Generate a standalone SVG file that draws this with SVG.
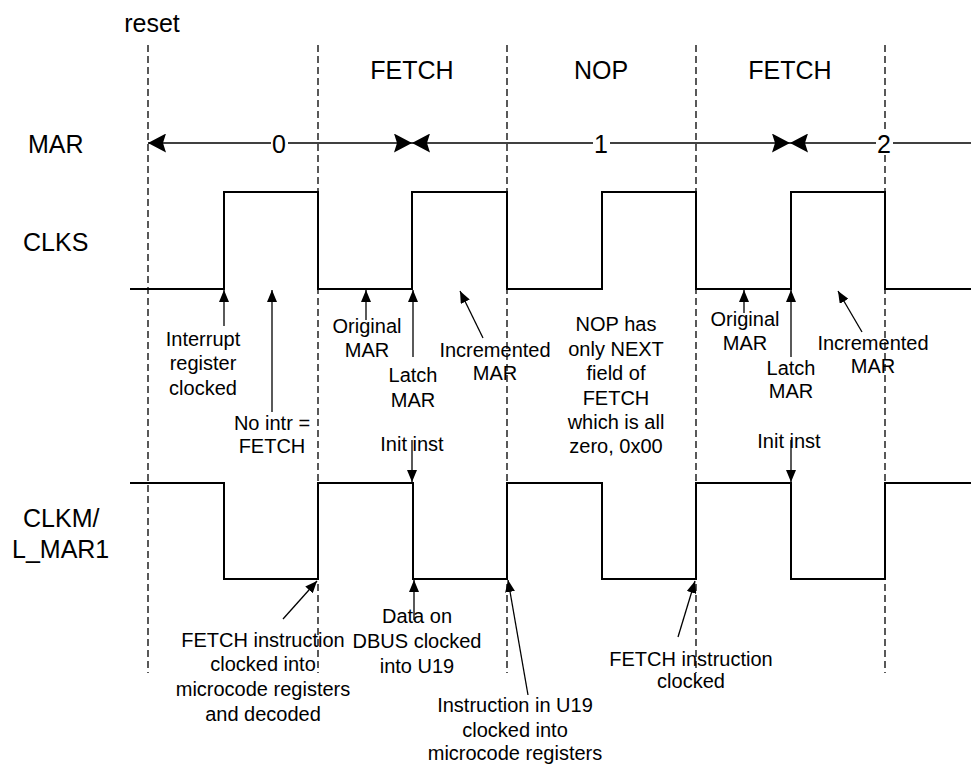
<svg xmlns="http://www.w3.org/2000/svg" width="971" height="764" viewBox="0 0 971 764">
<style>
text{font-family:"Liberation Sans",Arial,sans-serif;fill:#000}
.lbl{font-size:25px}
.ann{font-size:20px;text-anchor:middle}
.mid{text-anchor:middle}
.dash{stroke:#000;stroke-width:1.3;stroke-dasharray:7,4;fill:none}
.wave{stroke:#000;stroke-width:2;fill:none}
.mar{stroke:#000;stroke-width:1.6;fill:none;marker-start:url(#big);marker-end:url(#big)}
.arr{stroke:#000;stroke-width:1.3;fill:none;marker-end:url(#ah)}
.gap{fill:#fff;stroke:none}
</style>
<defs>
<marker id="ah" markerUnits="userSpaceOnUse" viewBox="0 0 12 10" markerWidth="12" markerHeight="10" refX="12" refY="5" orient="auto"><path d="M0,0 L12,5 L0,10 z" fill="#000"/></marker>
<marker id="big" markerUnits="userSpaceOnUse" viewBox="0 0 18 19" markerWidth="18" markerHeight="19" refX="18" refY="9.5" orient="auto-start-reverse"><path d="M0,0 L18,9.5 L0,19 L3,9.5 z" fill="#000"/></marker>
</defs>
<rect width="971" height="764" fill="#fff"/>

<g id="grid">
<line class="dash" x1="148" y1="45" x2="148" y2="673"/>
<line class="dash" x1="318" y1="45" x2="318" y2="673"/>
<line class="dash" x1="507" y1="45" x2="507" y2="673"/>
<line class="dash" x1="696" y1="45" x2="696" y2="673"/>
<line class="dash" x1="885" y1="45" x2="885" y2="673"/>
</g>

<g id="headers">
<text class="lbl mid" x="152" y="32">reset</text>
<text class="lbl mid" x="412" y="79">FETCH</text>
<text class="lbl mid" x="601" y="79">NOP</text>
<text class="lbl mid" x="790" y="79">FETCH</text>
</g>

<g id="signal-names">
<text class="lbl" x="28" y="153">MAR</text>
<text class="lbl" x="23" y="251">CLKS</text>
<text class="lbl" x="23" y="527">CLKM/</text>
<text class="lbl" x="12" y="558">L_MAR1</text>
</g>

<g id="mar">
<path class="mar" d="M148,143 H412"/>
<path class="mar" d="M412,143 H790"/>
<path class="mar" style="marker-end:none" d="M790,143 H971"/>
<rect class="gap" x="271" y="133" width="17" height="22"/>
<rect class="gap" x="593" y="133" width="17" height="22"/>
<rect class="gap" x="876" y="133" width="17" height="22"/>
<text class="lbl mid" x="279" y="153">0</text>
<text class="lbl mid" x="601" y="153">1</text>
<text class="lbl mid" x="884" y="153">2</text>
</g>

<g id="clks">
<path class="wave" d="M130,289 H224 V192 H318 V289 H412 V192 H507 V289 H602 V192 H696 V289 H791 V192 H885 V289 H971"/>
</g>

<g id="clkm">
<path class="wave" d="M130,483 H224 V579 H318 V483 H413 V579 H507 V483 H602 V579 H696 V483 H791 V579 H885 V483 H971"/>
</g>

<g id="connectors">
<line class="arr" x1="224" y1="326" x2="224" y2="290"/>
<line class="arr" x1="272" y1="412" x2="272" y2="290"/>
<line class="arr" x1="366" y1="320" x2="366" y2="290"/>
<line class="arr" x1="413" y1="357" x2="413" y2="290"/>
<line class="arr" x1="483" y1="338" x2="460" y2="291"/>
<line class="arr" x1="412" y1="440" x2="412" y2="482"/>
<line class="arr" x1="744" y1="313" x2="744" y2="290"/>
<line class="arr" x1="791" y1="357" x2="791" y2="290"/>
<line class="arr" x1="862" y1="332" x2="838" y2="291"/>
<line class="arr" x1="791" y1="440" x2="791" y2="482"/>
<line class="arr" x1="283" y1="619" x2="317" y2="581"/>
<line class="arr" x1="414" y1="620" x2="414" y2="580"/>
<line class="arr" x1="528" y1="695" x2="508" y2="580"/>
<line class="arr" x1="678" y1="637" x2="695" y2="581"/>
</g>

<g id="ann-interrupt">
<text class="ann" x="203" y="346">Interrupt</text>
<text class="ann" x="203" y="370">register</text>
<text class="ann" x="203" y="395">clocked</text>
</g>
<g id="ann-nointr">
<text class="ann" x="272" y="430">No intr =</text>
<text class="ann" x="272" y="453">FETCH</text>
</g>
<g id="ann-orig1">
<text class="ann" x="367" y="333">Original</text>
<text class="ann" x="367" y="357">MAR</text>
</g>
<g id="ann-latch1">
<text class="ann" x="413" y="382">Latch</text>
<text class="ann" x="413" y="407">MAR</text>
</g>
<g id="ann-inc1">
<text class="ann" x="495" y="357">Incremented</text>
<text class="ann" x="495" y="380">MAR</text>
</g>
<g id="ann-init1">
<text class="ann" x="412" y="451">Init inst</text>
</g>
<g id="ann-nop">
<text class="ann" x="616" y="331">NOP has</text>
<text class="ann" x="616" y="355.5">only NEXT</text>
<text class="ann" x="616" y="380">field of</text>
<text class="ann" x="616" y="404.5">FETCH</text>
<text class="ann" x="616" y="429">which is all</text>
<text class="ann" x="616" y="453">zero, 0x00</text>
</g>
<g id="ann-orig2">
<text class="ann" x="745" y="326">Original</text>
<text class="ann" x="745" y="350">MAR</text>
</g>
<g id="ann-latch2">
<text class="ann" x="791" y="375">Latch</text>
<text class="ann" x="791" y="398">MAR</text>
</g>
<g id="ann-inc2">
<text class="ann" x="873" y="350">Incremented</text>
<text class="ann" x="873" y="373">MAR</text>
</g>
<g id="ann-init2">
<text class="ann" x="789" y="448">Init inst</text>
</g>
<g id="ann-fetch1">
<text class="ann" x="263" y="647">FETCH instruction</text>
<text class="ann" x="263" y="671">clocked into</text>
<text class="ann" x="263" y="696">microcode registers</text>
<text class="ann" x="263" y="721">and decoded</text>
</g>
<g id="ann-data">
<text class="ann" x="417" y="623">Data on</text>
<text class="ann" x="417" y="648">DBUS clocked</text>
<text class="ann" x="417" y="673">into U19</text>
</g>
<g id="ann-instr">
<text class="ann" x="515" y="712">Instruction in U19</text>
<text class="ann" x="515" y="737">clocked into</text>
<text class="ann" x="515" y="760">microcode registers</text>
</g>
<g id="ann-fetch2">
<text class="ann" x="691" y="666">FETCH instruction</text>
<text class="ann" x="691" y="688">clocked</text>
</g>
</svg>
